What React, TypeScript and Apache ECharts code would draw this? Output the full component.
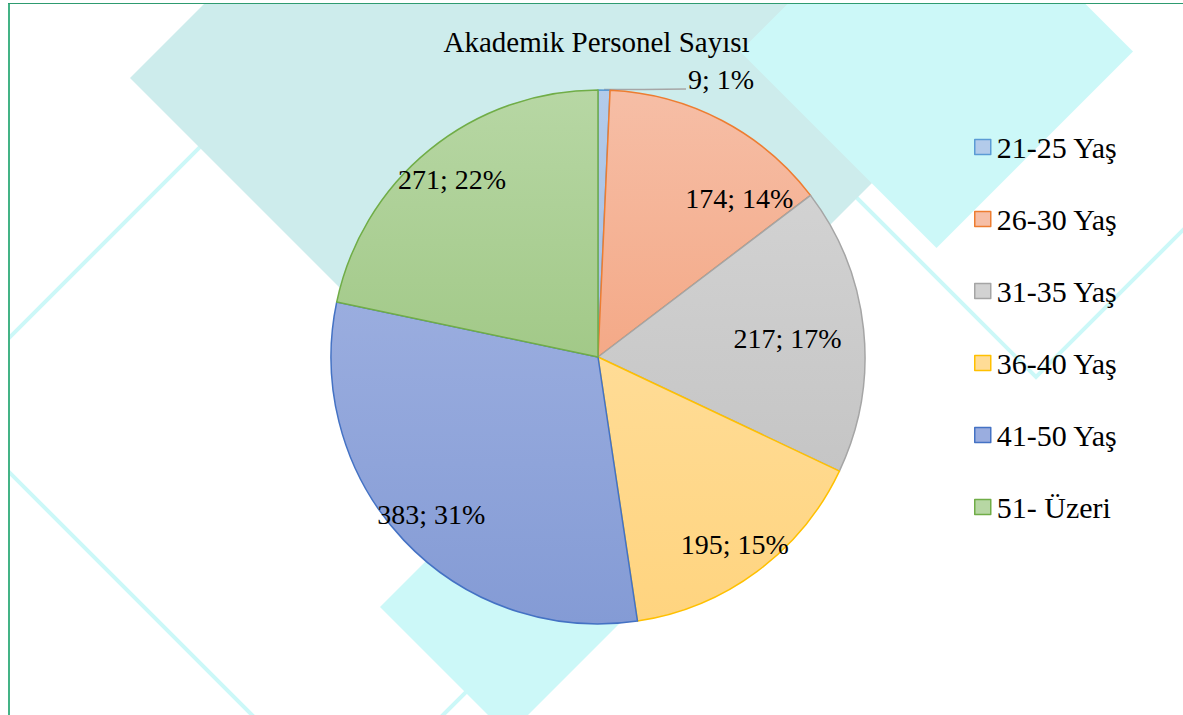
import React, { useEffect, useRef } from "react";
import * as echarts from "echarts";

// ---- data ----
const TITLE = "Akademik Personel Sayısı";
const CATEGORIES = ["21-25 Yaş", "26-30 Yaş", "31-35 Yaş", "36-40 Yaş", "41-50 Yaş", "51- Üzeri"];
const VALUES = [9, 174, 217, 195, 383, 271];

// ---- styles ----
const FILL_TOP = ["#B3CBEA", "#F6BEA6", "#D2D2D2", "#FFDC96", "#9AADDF", "#B7D7A4"];
const FILL_BOTTOM = ["#A4BEE4", "#F4A987", "#C5C5C5", "#FFD47F", "#849BD5", "#A2C988"];
const BORDERS = ["#5B9BD5", "#ED7D31", "#A5A5A5", "#FFC000", "#4472C4", "#70AD47"];
const FONT = "Liberation Serif";

const OX = 10;
const OY = 4;
const CX = 598 - OX;
const CY = 357 - OY;
const R = 267;

// label placement (fraction of radius, angle nudge in degrees)
const LABEL_FIT = [
  { r: 1, dA: 0 },
  { r: 0.796, dA: 14 },
  { r: 0.713, dA: 0.5 },
  { r: 0.869, dA: 0.5 },
  { r: 0.858, dA: 0 },
  { r: 0.862, dA: -0.3 },
];

const pg = (pts: number[][]) => pts.map(([x, y]) => [x - OX, y - OY]);

export default function App() {
  const ref = useRef<HTMLDivElement>(null);
  useEffect(() => {
    if (!ref.current) return;
    const chart = echarts.init(ref.current, null, { renderer: "svg" });
    const total = VALUES.reduce((a, b) => a + b, 0);
    let cum = 0;
    const mids = VALUES.map((v) => {
      const a = ((cum + v / 2) / total) * 360;
      cum += v;
      return a;
    });

    const CYAN = "#CCF8F8";
    const TEAL = "#CDECEC";
    const graphics: any[] = [
      {
        type: "polyline",
        silent: true,
        shape: { points: pg([[260, 87], [-58, 405], [300, 763]]) },
        style: { stroke: CYAN, lineWidth: 4, fill: null },
      },
      {
        type: "polyline",
        silent: true,
        shape: { points: pg([[800, 141], [1036, 377], [1300, 113]]) },
        style: { stroke: CYAN, lineWidth: 4, fill: null },
      },
      {
        type: "polyline",
        silent: true,
        shape: { points: pg([[438, 720], [468, 690], [500, 722]]) },
        style: { stroke: CYAN, lineWidth: 4, fill: null },
      },
      {
        type: "polygon",
        silent: true,
        shape: { points: pg([[130, 78], [553.5, -345.5], [977, 78], [553.5, 501.5]]) },
        style: { fill: TEAL },
      },
      {
        type: "polygon",
        silent: true,
        shape: { points: pg([[740, 51.5], [936.5, -145], [1133, 51.5], [936.5, 248]]) },
        style: { fill: CYAN },
      },
      {
        type: "polygon",
        silent: true,
        shape: { points: pg([[380, 607], [508, 479], [636, 607], [508, 735]]) },
        style: { fill: CYAN },
      },
    ];

    const data = CATEGORIES.map((name, i) => ({
      name,
      value: VALUES[i],
      itemStyle: {
        color: new echarts.graphic.LinearGradient(0, 0, 0, 1, [
          { offset: 0, color: FILL_TOP[i] },
          { offset: 1, color: FILL_BOTTOM[i] },
        ]),
        borderColor: BORDERS[i],
        borderWidth: 1.5,
      },
      label: i === 0 ? { position: "outside" } : { position: "inside" },
      labelLine: i === 0 ? { show: true, lineStyle: { color: "#A6A6A6", width: 1.5 } } : { show: false },
    }));

    chart.setOption({
      animation: false,
      backgroundColor: "transparent",
      graphic: { elements: graphics },
      title: {
        text: TITLE,
        left: "center",
        top: 23,
        padding: 0,
        textStyle: { fontFamily: FONT, fontSize: 29, fontWeight: "normal", color: "#000" },
      },
      legend: {
        orient: "vertical",
        left: 959,
        top: 123,
        itemWidth: 16,
        itemHeight: 15,
        itemGap: 42,
        icon: "rect",
        selectedMode: false,
        textStyle: { fontFamily: FONT, fontSize: 30, fontWeight: "normal", color: "#000", padding: [0, 0, 0, 1] },
        data: CATEGORIES.map((n, i) => ({
          name: n,
          itemStyle: { color: FILL_TOP[i], borderColor: BORDERS[i], borderWidth: 1.5 },
        })),
      },
      series: [
        {
          type: "pie",
          center: [CX, CY],
          radius: R,
          startAngle: 90,
          clockwise: true,
          avoidLabelOverlap: false,
          percentPrecision: 0,
          emphasis: { disabled: true },
          data,
          label: {
            formatter: "{c}; {d}%",
            fontFamily: FONT,
            fontSize: 28,
            fontWeight: "normal",
            color: "#000",
          },
          labelLayout: (p: any) => {
            const i = p.dataIndex;
            if (i === 0) {
              const a = (mids[0] * Math.PI) / 180;
              const ex = CX + R * Math.sin(a);
              const ey = CY - R * Math.cos(a) - 0.5;
              return {
                x: ex + 84,
                y: ey - 10,
                align: "left",
                verticalAlign: "middle",
                labelLinePoints: [
                  [ex, ey],
                  [ex + 40, ey],
                  [ex + 82, ey - 0.5],
                ],
              };
            }
            const f = LABEL_FIT[i];
            const a = ((mids[i] + f.dA) * Math.PI) / 180;
            return {
              x: CX + f.r * R * Math.sin(a),
              y: CY - f.r * R * Math.cos(a),
              align: "center",
              verticalAlign: "middle",
            };
          },
        },
      ],
    });
    return () => chart.dispose();
  }, []);

  return (
    <div
      style={{
        position: "fixed",
        left: 0,
        top: 0,
        width: 1183,
        height: 715,
        background: "#fff",
        overflow: "hidden",
      }}
    >
      <div style={{ position: "absolute", left: 8, top: 3, width: 2, height: 712, background: "#44B386" }} />
      <div style={{ position: "absolute", left: 8, top: 3, width: 1175, height: 1, background: "#2E9B70" }} />
      <div
        ref={ref}
        style={{ position: "absolute", left: OX, top: OY, width: 1183 - OX, height: 715 - OY, overflow: "hidden" }}
      />
    </div>
  );
}
